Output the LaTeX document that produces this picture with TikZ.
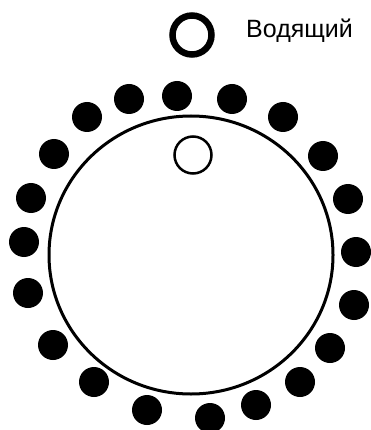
\documentclass[tikz,border=0pt]{standalone}
\usepackage{fontspec}
\setmainfont{Liberation Sans}
\usepackage{tikz}

\begin{document}
\begin{tikzpicture}[x=1pt,y=-1pt]
  \useasboundingbox (0,0) rectangle (371,430);
  \coordinate (C) at (191,255);
  \coordinate (L) at (192,35);
  \coordinate (I) at (193,155);
  % ring
  \draw[line width=3pt] (C) ellipse [x radius=142, y radius=139];
  \draw[line width=2.5pt] (I) circle (18.5);
  % leader
  \draw[line width=6.5pt] (L) circle (19.5);
  \node[anchor=base west,font=\fontsize{25}{30}\selectfont,inner sep=0pt] (lbl) at (246,38) {Водящий};
  % players
  \foreach \x/\y [count=\i] in {177/96,129/99,232/99,87/117,283/117,54/154,323/156,
      31/198,348/199,24/242,356/252,28/293,354/305,53/345,330/348,94/382,
      300/382,147/410,256/405,210/418}
  {
    \coordinate (p\i) at (\x,\y);
    \fill (p\i) circle (15);
  }
\end{tikzpicture}
\end{document}
